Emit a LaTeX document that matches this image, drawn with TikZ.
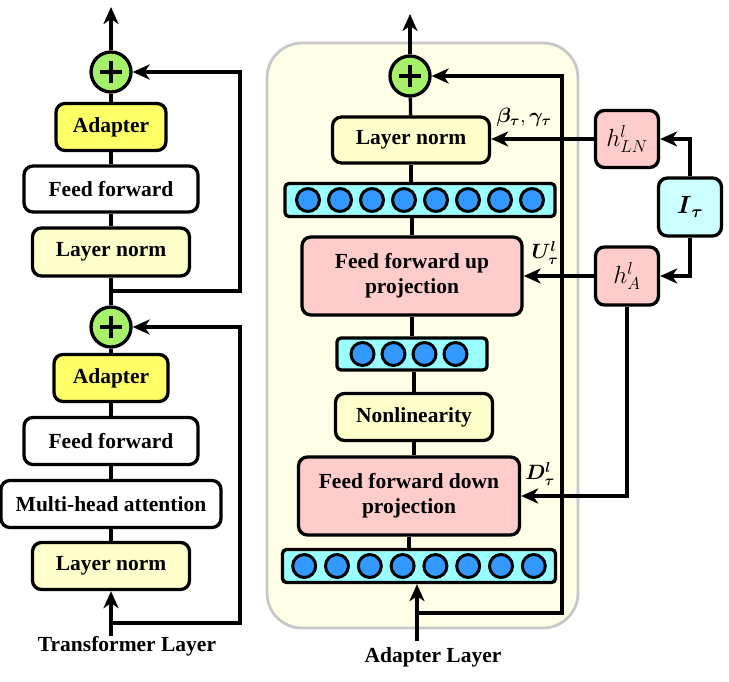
\documentclass[tikz,border=0pt]{standalone}
\usepackage{amsmath}
\usepackage{fontspec}
\setmainfont{Liberation Serif}
\usetikzlibrary{arrows.meta}
\definecolor{plusgreen}{HTML}{A6F06A}
\definecolor{adyellow}{HTML}{FFFF66}
\definecolor{lnyellow}{HTML}{FFFFCC}
\definecolor{ffpink}{HTML}{FFCCCC}
\definecolor{barcyan}{HTML}{99FFFF}
\definecolor{dotblue}{HTML}{3399FF}
\definecolor{itcyan}{HTML}{CCFFFF}
\definecolor{panelfill}{HTML}{FFFEE6}
\definecolor{panelline}{HTML}{C8C8C8}
\tikzset{
  lw/.style={line width=3.3pt},
  blk/.style={draw, lw, rounded corners=9pt, inner sep=0pt, align=center,
    font=\bfseries\fontsize{21.5}{25}\selectfont},
  plusnode/.style={circle, draw, lw, fill=plusgreen, minimum size=40pt, inner sep=0pt,
    path picture={\draw[line width=3.8pt] (path picture bounding box.center) +(-11pt,0pt) -- +(11pt,0pt)
      (path picture bounding box.center) +(0pt,-11pt) -- +(0pt,11pt);}},
  barnode/.style={draw, lw, fill=barcyan, rounded corners=4pt, inner sep=0pt},
  dotc/.style={draw, line width=3pt, fill=dotblue},
  conn/.style={lw},
  arr/.style={lw, -{Stealth[length=17pt,width=15pt,inset=5pt]}},
  lbl/.style={font=\bfseries\fontsize{21.5}{25}\selectfont, inner sep=0pt},
  mlbl/.style={font=\fontsize{21}{25}\selectfont, inner sep=0pt},
  hbox/.style={blk, fill=ffpink, minimum width=63pt, minimum height=57pt, font=\fontsize{26}{30}\selectfont},
}
\begin{document}
\begin{tikzpicture}[x=1pt,y=-1pt]
\useasboundingbox (0,0) rectangle (729,682);
% ---------- left: transformer layer ----------
\node[plusnode] (plusA) at (111,72) {};
\node[blk, fill=adyellow, minimum width=110pt, minimum height=47pt] (adA) at (111,127) {Adapter};
\node[blk, fill=white, minimum width=174pt, minimum height=46pt] (ffA) at (111,189) {Feed forward};
\node[blk, fill=lnyellow, minimum width=157pt, minimum height=48pt] (lnA) at (111,252) {Layer norm};
\node[plusnode] (plusB) at (111,327) {};
\node[blk, fill=adyellow, minimum width=114pt, minimum height=47pt] (adB) at (111,378) {Adapter};
\node[blk, fill=white, minimum width=174pt, minimum height=47pt] (ffB) at (111,441) {Feed forward};
\node[blk, fill=white, minimum width=220pt, minimum height=47pt] (mha) at (111,504) {Multi-head attention};
\node[blk, fill=lnyellow, minimum width=157pt, minimum height=47pt] (lnB) at (111,566) {Layer norm};
\node[lbl, anchor=north] (tl) at (127,636) {Transformer Layer};
\coordinate (outA) at (111,7);
\coordinate (jA) at (111,291);
\coordinate (cA) at (240,291);
\coordinate (jB) at (111,623);
\coordinate (cB) at (240,623);
\draw[arr] (plusA.north) -- (outA);
\draw[conn] (plusA) -- (adA) (adA) -- (ffA) (ffA) -- (lnA) (lnA) -- (plusB);
\draw[conn] (plusB) -- (adB) (adB) -- (ffB) (ffB) -- (mha) (mha) -- (lnB);
\draw[arr] (jA) -- (cA) |- (plusA.east);
\draw[arr] (jB) -- (cB) |- (plusB.east);
\draw[arr] (lnB.south |- tl.north) -- (lnB.south);
% ---------- right: adapter layer ----------
\draw[panelline, line width=2.8pt, fill=panelfill, rounded corners=35pt] (267,43) rectangle (578,628);
\node[plusnode] (plusR) at (410,76) {};
\node[blk, fill=lnyellow, minimum width=157pt, minimum height=46pt] (lnR) at (411,140) {Layer norm};
\node[barnode, minimum width=270pt, minimum height=33pt] (n1) at (420,200) {};
\node[blk, fill=ffpink, minimum width=220pt, minimum height=78pt] (ffu) at (412,276) {Feed forward up\\projection};
\node[barnode, minimum width=150pt, minimum height=32pt] (n2) at (412,354) {};
\node[blk, fill=lnyellow, minimum width=157pt, minimum height=47pt] (nl) at (414,417) {Nonlinearity};
\node[blk, fill=ffpink, minimum width=221pt, minimum height=78pt] (ffd) at (409,496) {Feed forward down\\projection};
\node[barnode, minimum width=273pt, minimum height=33pt] (n3) at (419,566) {};
\foreach \i in {0,...,7} \draw[dotc] ([xshift=(\i-3.5)*32pt]n1.center) circle[radius=11.5pt];
\foreach \i in {0,...,3} \draw[dotc] ([xshift=(\i-1.5)*31pt-3pt]n2.center) circle[radius=11.5pt];
\foreach \i in {0,...,7} \draw[dotc] ([xshift=(\i-3.5)*32.8pt]n3.center) circle[radius=11.5pt];
\node[lbl, anchor=north] (al) at (433,647) {Adapter Layer};
\coordinate (outR) at (410,14);
\coordinate (inR) at (417,641);
\coordinate (jR) at (417,613);
\coordinate (cR) at (562,613);
\draw[arr] (plusR.north) -- (outR);
\draw[conn] (plusR) -- (lnR);
\draw[conn] (lnR.south) -- (lnR.south |- n1.north);
\draw[conn] (ffu.north) -- (ffu.north |- n1.south);
\draw[conn] (ffu.south) -- (ffu.south |- n2.north);
\draw[conn] (nl.north) -- (nl.north |- n2.south);
\draw[conn] (nl.south) -- (nl.south |- ffd.north);
\draw[conn] (ffd.south) -- (ffd.south |- n3.north);
\draw[arr] (inR) -- (inR |- n3.south);
\draw[arr] (jR) -- (cR) |- (plusR.east);
% ---------- external hypernetwork ----------
\node[hbox] (hLN) at (627,139) {$h^l_{LN}$};
\node[blk, fill=itcyan, minimum width=63pt, minimum height=58pt, font=\fontsize{24}{28}\selectfont] (It) at (690,207) {$\boldsymbol{I}_{\boldsymbol{\tau}}$};
\node[hbox, minimum height=58pt] (hA) at (627,276) {$h^l_{A}$};
\draw[arr] (It.north) |- (hLN.east);
\draw[arr] (It.south) |- (hA.east);
\draw[arr] (hLN.west) -- (hLN.west -| lnR.east);
\draw[arr] (hA.west) -- (hA.west -| ffu.east);
\draw[arr] (hA.south) |- (ffd.east);
\node[mlbl] (lbg) at (524,117) {$\boldsymbol{\beta_{\tau}}, \boldsymbol{\gamma_{\tau}}$};
\node[mlbl] (lbu) at (545,253) {$\boldsymbol{U^{l}_{\tau}}$};
\node[mlbl] (lbd) at (540,474) {$\boldsymbol{D^{l}_{\tau}}$};
\end{tikzpicture}
\end{document}
